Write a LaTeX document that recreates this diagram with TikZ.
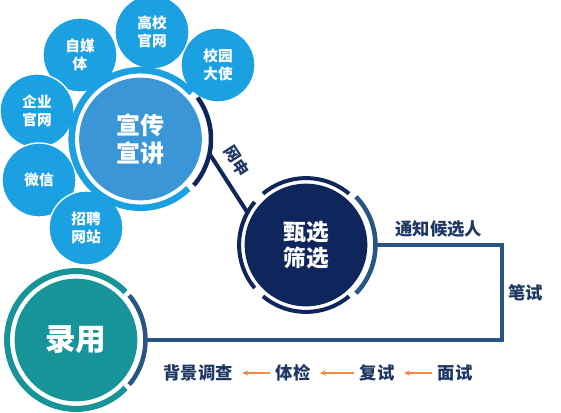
\documentclass[tikz,border=0pt]{standalone}
\usepackage{fontspec}
\setmainfont{Noto Sans CJK SC}
\usetikzlibrary{arrows.meta, calc}

\definecolor{bubblue}{RGB}{27,160,225}
\definecolor{mainblue}{RGB}{58,150,214}
\definecolor{navy}{RGB}{14,38,92}
\definecolor{steel}{RGB}{40,85,130}
\definecolor{teal}{RGB}{22,148,152}
\definecolor{labelnavy}{RGB}{30,55,100}
\definecolor{flowor}{RGB}{240,140,70}

\begin{document}
\begin{tikzpicture}[
        x=0.75pt, y=0.75pt,
        every node/.style={font=\bfseries},
        bubble/.style={circle, fill=bubblue, draw=white, line width=1pt, minimum size=55.5pt, inner sep=0pt,
            align=center, text=white, font=\bfseries\fontsize{11}{13.5}\selectfont},
        core/.style={circle, minimum size=92pt, inner sep=0pt, align=center, text=white},
        lbl/.style={text=labelnavy, font=\bfseries\fontsize{13}{15}\selectfont, inner sep=2pt},
        pipe/.style={steel, line width=3pt},
        flow/.style={flowor, line width=0.8pt, -{Stealth[length=4.5pt, width=4pt]}, shorten <=2pt, shorten >=5pt}
    ]
    \useasboundingbox (0,0) rectangle (561,412);

    % Channels around the first stage
    \node[bubble] (xydsh) at (218,347) {校园\\大使};
    \node[bubble] (gxgw) at (152,380) {高校\\官网};
    \node[bubble] (zmt) at (80,357) {自媒\\体};
    \node[bubble] (qygw) at (37,301) {企业\\官网};
    \node[bubble] (wx) at (39,232) {微信};
    \node[bubble] (zpwz) at (86,184) {招聘\\网站};

    % Stage 1
    \node[core, fill=mainblue, font=\bfseries\fontsize{18}{21}\selectfont] (xc) at (140.5,273) {宣传\\宣讲};
    \draw[bubblue, line width=4.9pt] ($(xc)+(42:51.6pt)$) arc[start angle=42, end angle=314, radius=51.6pt];
    \draw[navy, line width=3.4pt] ($(xc)+(-41:52.9pt)$) arc[start angle=-41, end angle=36, radius=52.9pt];

    % Stage 2
    \node[core, fill=navy, font=\bfseries\fontsize{17}{19}\selectfont] (zx) at (306,167) {甄选\\筛选};
    \foreach \a in {50, 140, 230} {
        \draw[navy, line width=3pt] ($(zx)+(\a:50.2pt)$) arc[start angle=\a, end angle=\a+80, radius=50.2pt];
    }
    \draw[steel, line width=3.4pt] ($(zx)+(-44:52.1pt)$) arc[start angle=-44, end angle=44, radius=52.1pt];

    % Stage 3
    \node[core, fill=teal, font=\bfseries\fontsize{23}{26}\selectfont] (ly) at (76,72) {录用};
    \draw[teal, line width=4.5pt] ($(ly)+(44:51.7pt)$) arc[start angle=44, end angle=316, radius=51.7pt];
    \draw[steel, line width=3.4pt] ($(ly)+(-40:52.1pt)$) arc[start angle=-40, end angle=40, radius=52.1pt];

    % Connectors
    \coordinate (xc-o) at ($(xc)+(-12:52.9pt)$);
    \coordinate (zx-i) at ($(zx)+(151:50.2pt)$);
    \coordinate (zx-o) at ($(zx)+(0:52.1pt)$);
    \coordinate (ly-o) at ($(ly)+(0:52.1pt)$);
    \coordinate (tr) at (502,167);
    \coordinate (br) at (502,72);

    \draw[navy, line width=3pt] (xc-o) -- node[pos=0.3, sloped, above=5pt, lbl, font=\bfseries\fontsize{12}{14}\selectfont] {网申} (zx-i);
    \draw[pipe, line join=miter] (zx-o) -- node[lbl, above=2pt] {通知候选人} (tr)
        -- node[lbl, right=1pt] {笔试} (br) -- (ly-o);

    % Later steps
    \node[lbl] (ms) at (455,39) {面试};
    \node[lbl] (fs) at (377,39) {复试};
    \node[lbl] (tj) at (293,39) {体检};
    \node[lbl] (bjdc) at (198,39) {背景调查};
    \draw[flow] (ms.west) -- (fs.east);
    \draw[flow] (fs.west) -- (tj.east);
    \draw[flow] (tj.west) -- (bjdc.east);

\end{tikzpicture}
\end{document}
